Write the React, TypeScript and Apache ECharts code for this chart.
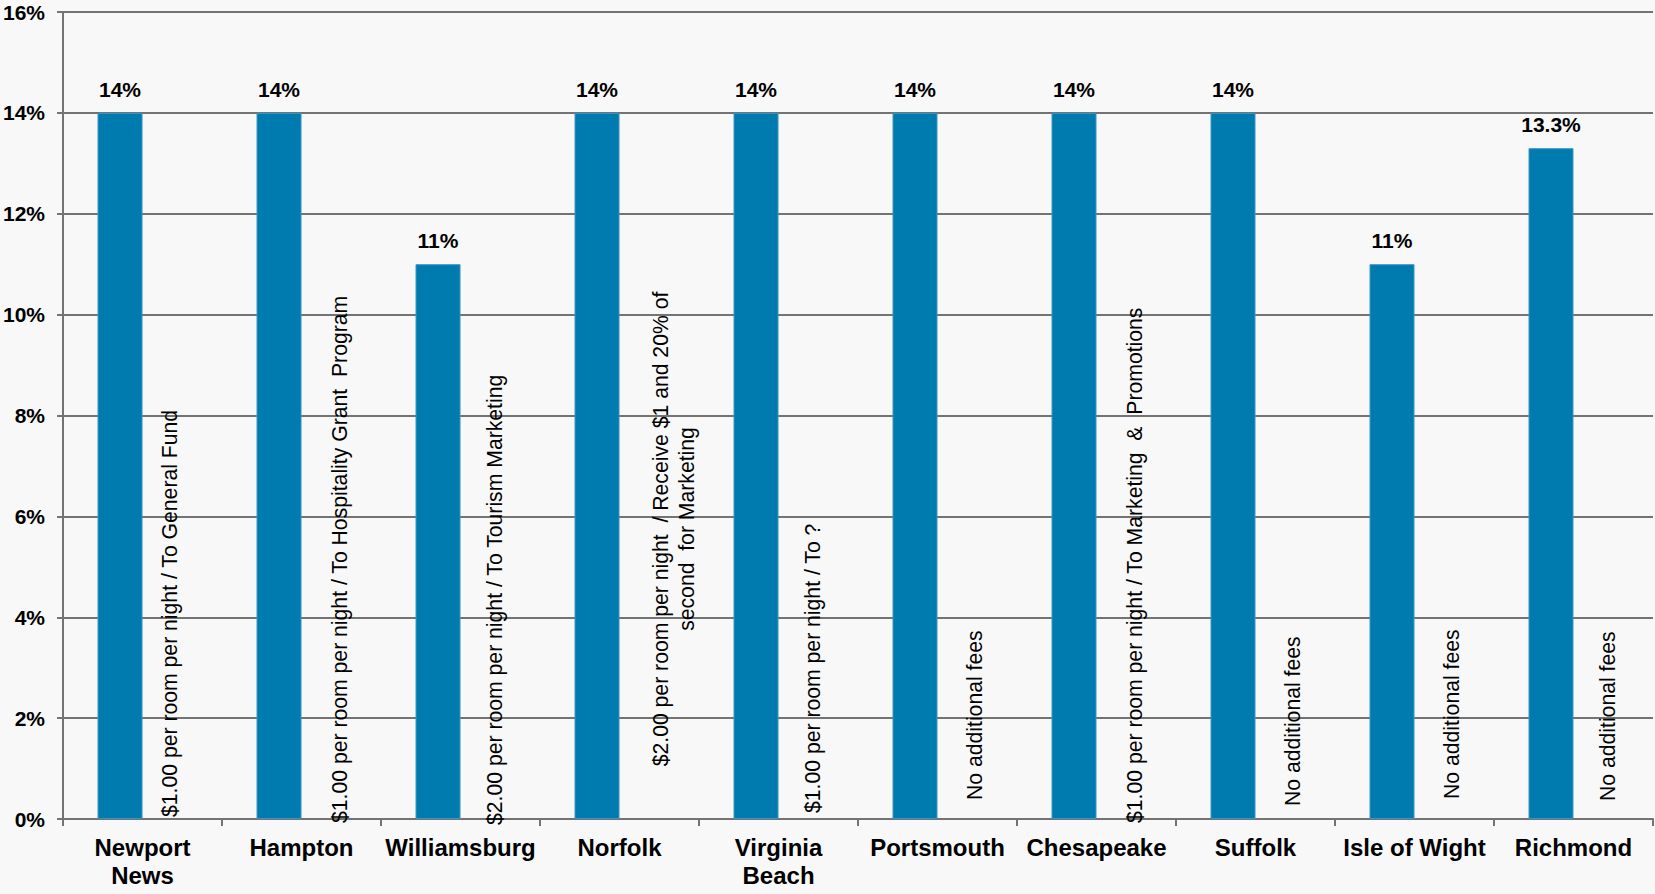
import React, { useEffect, useRef } from "react";
import * as echarts from "echarts";

// ---- data ----
const categories = [
  "Newport\nNews",
  "Hampton",
  "Williamsburg",
  "Norfolk",
  "Virginia\nBeach",
  "Portsmouth",
  "Chesapeake",
  "Suffolk",
  "Isle of Wight",
  "Richmond",
];
const taxRates = [14, 14, 11, 14, 14, 14, 14, 14, 11, 13.3];
const feeNotes = [
  "$1.00 per room per night / To General Fund",
  "$1.00 per room per night / To Hospitality Grant  Program",
  "$2.00 per room per night / To Tourism Marketing",
  "$2.00 per room per night  / Receive $1 and 20% of\nsecond  for Marketing",
  "$1.00 per room per night / To ?",
  "No additional fees",
  "$1.00 per room per night / To Marketing  &  Promotions",
  "No additional fees",
  "No additional fees",
  "No additional fees",
];
const yMin = 0;
const yMax = 16;
const yStep = 2;

// ---- label styling: per-note nudges [along text (up), across text (right)] ----
const noteNudges: [number, number][] = [
  [2, 4.5],
  [-4, 15.5],
  [-6, 11.5],
  [290, 31.5],
  [6, 11.5],
  [19, 14.5],
  [-4, 15.5],
  [13, 14.5],
  [20, 14.5],
  [18, 11.5],
];
const noteAlign = ["left", "left", "left", "center", "left", "left", "left", "left", "left", "left"];

const FONT = "'Liberation Sans', Arial, Helvetica, sans-serif";
const BAR_COLOR = "#007BAF";
const GRID_COLOR = "#737373";

export default function App() {
  const ref = useRef<HTMLDivElement>(null);

  useEffect(() => {
    if (!ref.current) return;
    const chart = echarts.init(ref.current, undefined, { renderer: "svg" });
    chart.setOption({
      animation: false,
      backgroundColor: "#f8f8f8",
      textStyle: { fontFamily: FONT },
      grid: { left: 63, right: 2, top: 12, bottom: 75, containLabel: false },
      xAxis: {
        type: "category",
        data: categories,
        axisLine: { show: true, lineStyle: { color: GRID_COLOR, width: 2 } },
        axisTick: { show: true, length: 7, lineStyle: { color: GRID_COLOR, width: 2 } },
        axisLabel: {
          interval: 0,
          color: "#000",
          fontFamily: FONT,
          fontWeight: "bold",
          fontSize: 24,
          lineHeight: 28,
          margin: 14,
        },
      },
      yAxis: {
        type: "value",
        min: yMin,
        max: yMax,
        interval: yStep,
        axisLine: { show: true, lineStyle: { color: GRID_COLOR, width: 2 } },
        axisTick: { show: true, length: 6, lineStyle: { color: GRID_COLOR, width: 2 } },
        splitLine: { show: true, lineStyle: { color: GRID_COLOR, width: 2 } },
        axisLabel: {
          formatter: "{value}%",
          color: "#000",
          fontFamily: FONT,
          fontWeight: "bold",
          fontSize: 21,
          margin: 18,
        },
      },
      series: [
        {
          name: "Tax rate",
          type: "bar",
          data: taxRates,
          barWidth: 45,
          barGap: "0%",
          itemStyle: { color: BAR_COLOR, borderColor: "#3a96c4", borderWidth: 1 },
          label: {
            show: true,
            position: "top",
            distance: 13,
            formatter: (p: any) => `${p.value}%`,
            color: "#000",
            fontFamily: FONT,
            fontWeight: "bold",
            fontSize: 21,
          },
        },
        {
          name: "Fees",
          type: "bar",
          barWidth: 45,
          barGap: "0%",
          silent: true,
          itemStyle: { color: "rgba(0,0,0,0)" },
          data: taxRates.map((v, i) => ({
            value: v,
            label: {
              offset: noteNudges[i],
              align: noteAlign[i],
            },
          })),
          label: {
            show: true,
            position: ["50%", "100%"],
            rotate: 90,
            align: "left",
            verticalAlign: "middle",
            formatter: (p: any) => feeNotes[p.dataIndex],
            color: "#000",
            fontFamily: FONT,
            fontWeight: "normal",
            fontSize: 21.2,
            lineHeight: 26,
          },
        },
      ],
    });
    return () => chart.dispose();
  }, []);

  return (
    <div
      ref={ref}
      style={{ position: "fixed", left: 0, top: 0, width: 1655, height: 894 }}
    />
  );
}
